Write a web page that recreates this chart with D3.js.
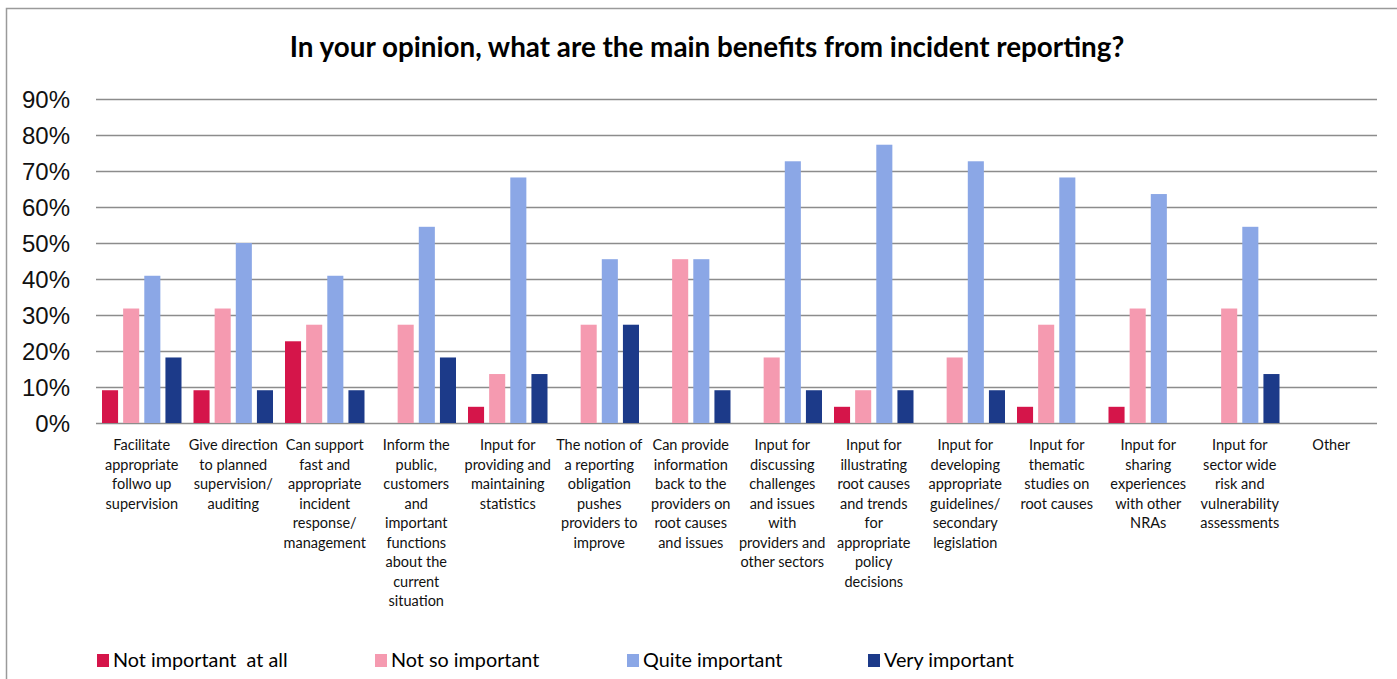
<!DOCTYPE html>
<html>
<head>
<meta charset="utf-8">
<style>
    body { margin: 0; background: #fff; }
    svg { font-family: Lato, 'Liberation Sans', sans-serif; }
    .title { font-size: 27.8px; font-weight: bold; fill: #000; }
    .y .tick text { font-size: 24px; fill: #111; }
    .y .tick line { stroke: #8c8c8c; stroke-width: 1.5; }
    .y .domain { display: none; }
    .cat { font-size: 14.5px; fill: #111; }
    .legend text { font-size: 19.8px; fill: #000; white-space: pre; }
</style>
</head>
<body>
<svg width="1397" height="679"></svg>
<script src="https://d3js.org/d3.v7.min.js"></script>
<script>
    let categories = [
        ["Facilitate", "appropriate", "follwo up", "supervision"],
        ["Give direction", "to planned", "supervision/", "auditing"],
        ["Can support", "fast and", "appropriate", "incident", "response/", "management"],
        ["Inform the", "public,", "customers", "and", "important", "functions", "about the", "current", "situation"],
        ["Input for", "providing and", "maintaining", "statistics"],
        ["The notion of", "a reporting", "obligation", "pushes", "providers to", "improve"],
        ["Can provide", "information", "back to the", "providers on", "root causes", "and issues"],
        ["Input for", "discussing", "challenges", "and issues", "with", "providers and", "other sectors"],
        ["Input for", "illustrating", "root causes", "and trends", "for", "appropriate", "policy", "decisions"],
        ["Input for", "developing", "appropriate", "guidelines/", "secondary", "legislation"],
        ["Input for", "thematic", "studies on", "root causes"],
        ["Input for", "sharing", "experiences", "with other", "NRAs"],
        ["Input for", "sector wide", "risk and", "vulnerability", "assessments"],
        ["Other"]
    ]

    let seriesNames = ["Not important  at all", "Not so important", "Quite important", "Very important"]
    let seriesColors = ["#D5154A", "#F59AB0", "#8BA7E6", "#1C3A89"]

    let notImportant  = [0.091, 0.091, 0.227, 0, 0.045, 0, 0, 0, 0.045, 0, 0.045, 0.045, 0, 0]
    let notSo         = [0.318, 0.318, 0.273, 0.273, 0.136, 0.273, 0.455, 0.182, 0.091, 0.182, 0.273, 0.318, 0.318, 0]
    let quite         = [0.409, 0.500, 0.409, 0.545, 0.682, 0.455, 0.455, 0.727, 0.773, 0.727, 0.682, 0.636, 0.545, 0]
    let very          = [0.182, 0.091, 0.091, 0.182, 0.136, 0.273, 0.091, 0.091, 0.091, 0.091, 0, 0, 0.136, 0]

    let yTicks = [0, 0.1, 0.2, 0.3, 0.4, 0.5, 0.6, 0.7, 0.8, 0.9]

    let allSeries = [notImportant, notSo, quite, very]

    let svg = d3.select("svg")

    // chart frame (extends past the picture on the right and bottom)
    svg.append("rect")
        .attr("x", 6.5)
        .attr("y", 8.5)
        .attr("width", 1420)
        .attr("height", 700)
        .attr("fill", "none")
        .attr("stroke", "#9a9a9a")
        .attr("stroke-width", 1.5)

    svg.append("text")
        .attr("class", "title")
        .attr("x", 707)
        .attr("y", 57)
        .attr("text-anchor", "middle")
        .text("In your opinion, what are the main benefits from incident reporting?")

    let plotLeft = 96, plotRight = 1377, plotTop = 99, plotBottom = 423

    let x0 = d3.scaleBand()
        .domain(d3.range(categories.length))
        .range([plotLeft, plotRight])
        .paddingInner(0)

    let x1 = d3.scaleBand()
        .domain(d3.range(seriesNames.length))
        .range([6, x0.bandwidth() - 6])
        .paddingInner(0.24)

    let y = d3.scaleLinear()
        .domain([0, 0.9])
        .range([plotBottom, plotTop])

    let yAxis = svg.append("g")
        .attr("class", "y")
        .attr("transform", "translate(" + plotLeft + ",0)")
        .call(d3.axisLeft(y)
            .tickValues(yTicks)
            .tickSize(-(plotRight - plotLeft))
            .tickPadding(26)
            .tickFormat(d3.format(".0%")))
    yAxis.selectAll(".tick text").attr("dy", "0.36em")

    let groups = svg.append("g")
        .selectAll("g")
        .data(categories)
        .join("g")
        .attr("transform", (d, i) => "translate(" + x0(i) + ",0)")

    groups.selectAll("rect")
        .data((d, i) => allSeries.map((s, k) => ({ k: k, v: s[i] })))
        .join("rect")
        .attr("x", d => x1(d.k))
        .attr("width", x1.bandwidth())
        .attr("y", d => y(d.v))
        .attr("height", d => plotBottom - y(d.v))
        .attr("fill", d => seriesColors[d.k])

    // category labels
    let labels = svg.append("g")
        .selectAll("text")
        .data(categories)
        .join("text")
        .attr("class", "cat")
        .attr("text-anchor", "middle")
        .attr("x", (d, i) => x0(i) + x0.bandwidth() / 2)
        .attr("y", 450)

    labels.selectAll("tspan")
        .data(d => d)
        .join("tspan")
        .attr("x", function () { return this.parentNode.getAttribute("x") })
        .attr("dy", (d, i) => i == 0 ? 0 : 19.5)
        .text(d => d)

    // legend
    let legendX = [97, 375, 627, 868]
    let legend = svg.append("g")
        .attr("class", "legend")
        .selectAll("g")
        .data(seriesNames)
        .join("g")
        .attr("transform", (d, i) => "translate(" + legendX[i] + ",654)")

    legend.append("rect")
        .attr("width", 12)
        .attr("height", 13)
        .attr("fill", (d, i) => seriesColors[i])

    legend.append("text")
        .attr("x", 16)
        .attr("y", 13)
        .text(d => d)
</script>
</body>
</html>
